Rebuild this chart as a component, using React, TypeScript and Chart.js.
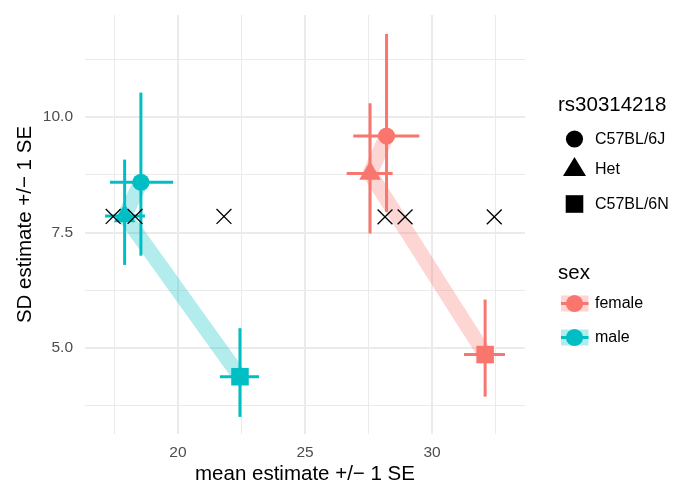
import React, { useEffect, useRef } from "react";
import { Chart, registerables } from "chart.js";
Chart.register(...registerables);

// ---------- data ----------
const genotypes = ["C57BL/6J", "Het", "C57BL/6N"];
const sexes = ["female", "male"];

const femaleMean = [28.21, 27.56, 32.09];
const femaleMeanLo = [26.9, 26.64, 31.26];
const femaleMeanHi = [29.5, 28.45, 32.87];
const femaleSD = [9.59, 8.78, 4.86];
const femaleSDLo = [7.95, 7.48, 3.95];
const femaleSDHi = [11.8, 10.3, 6.05];

const maleMean = [18.54, 17.9, 22.44];
const maleMeanLo = [17.32, 17.13, 21.65];
const maleMeanHi = [19.81, 18.7, 23.19];
const maleSD = [8.59, 7.86, 4.38];
const maleSDLo = [7.0, 6.8, 3.51];
const maleSDHi = [10.53, 9.08, 5.43];

const crossX = [17.45, 18.31, 21.81, 28.15, 28.94, 32.45];
const crossY = [7.85, 7.85, 7.85, 7.84, 7.84, 7.84];

const xTickLabels = [20, 25, 30];
const xGridValues = [17.5, 20, 22.5, 25, 27.5, 30, 32.5];
const yTickLabels = [5.0, 7.5, 10.0];
const yGridValues = [3.75, 5.0, 6.25, 7.5, 8.75, 10.0, 11.25];

const xTitle = "mean estimate +/\u2212 1 SE";
const yTitle = "SD estimate +/\u2212 1 SE";
const shapeTitle = "rs30314218";
const sexTitle = "sex";

// ---------- styles ----------
const FONT = "'Liberation Sans', Arial, Helvetica, sans-serif";
const COLORS: Record<string, string> = { female: "#F8766D", male: "#00BFC4" };
const RIBBON: Record<string, string> = {
  female: "rgba(248,118,109,0.3)",
  male: "rgba(0,191,196,0.3)",
};
const SHAPES = ["circle", "triangle", "rect"];
const RADII = [8.6, 12.5, 12.4];

const seriesFor = (sex: string) =>
  sex === "female"
    ? { m: femaleMean, mlo: femaleMeanLo, mhi: femaleMeanHi, s: femaleSD, slo: femaleSDLo, shi: femaleSDHi }
    : { m: maleMean, mlo: maleMeanLo, mhi: maleMeanHi, s: maleSD, slo: maleSDLo, shi: maleSDHi };

function drawShape(ctx: CanvasRenderingContext2D, shape: string, x: number, y: number) {
  ctx.beginPath();
  if (shape === "circle") {
    ctx.arc(x, y, 8.6, 0, Math.PI * 2);
  } else if (shape === "triangle") {
    ctx.moveTo(x, y - 12);
    ctx.lineTo(x + 11.5, y + 7);
    ctx.lineTo(x - 11.5, y + 7);
    ctx.closePath();
  } else {
    ctx.rect(x - 8.8, y - 8.8, 17.6, 17.6);
  }
  ctx.fill();
}

const legendPlugin = {
  id: "ggLegend",
  afterDraw(chart: any) {
    const ctx: CanvasRenderingContext2D = chart.ctx;
    ctx.save();
    ctx.textBaseline = "middle";
    ctx.textAlign = "left";
    ctx.fillStyle = "#000";
    ctx.font = `20.5px ${FONT}`;
    ctx.fillText(shapeTitle, 558, 105);
    const shapeY = [139, 169, 204];
    ctx.font = `16px ${FONT}`;
    genotypes.forEach((g, i) => {
      ctx.fillStyle = "#000";
      drawShape(ctx, SHAPES[i], 574.5, shapeY[i]);
      ctx.fillText(g, 595, shapeY[i] + 1);
    });
    ctx.font = `20.5px ${FONT}`;
    ctx.fillText(sexTitle, 558, 273);
    const sexY = [303.5, 337.5];
    sexes.forEach((s, i) => {
      const y = sexY[i];
      ctx.fillStyle = RIBBON[s];
      ctx.fillRect(561, y - 8, 27.5, 16);
      ctx.fillStyle = COLORS[s];
      ctx.fillRect(561, y - 1.5, 27.5, 3);
      ctx.beginPath();
      ctx.arc(574.5, y, 8.6, 0, Math.PI * 2);
      ctx.fill();
      ctx.fillStyle = "#000";
      ctx.font = `16px ${FONT}`;
      ctx.fillText(s, 595, y);
    });
    ctx.restore();
  },
};

export default function App() {
  const ref = useRef<HTMLCanvasElement | null>(null);
  useEffect(() => {
    if (!ref.current) return;
    const datasets: any[] = [];
    sexes.forEach((sex) => {
      const d = seriesFor(sex);
      // ribbon line
      datasets.push({
        type: "line",
        data: d.m.map((x, i) => ({ x, y: d.s[i] })),
        borderColor: RIBBON[sex],
        borderWidth: 15,
        borderJoinStyle: "round",
        borderCapStyle: "round",
        pointRadius: 0,
        tension: 0,
        fill: false,
        order: 4,
      });
      // error bars
      d.m.forEach((x, i) => {
        datasets.push({
          type: "line",
          data: [
            { x, y: d.slo[i] },
            { x, y: d.shi[i] },
          ],
          borderColor: COLORS[sex],
          borderWidth: 3,
          borderCapStyle: "butt",
          pointRadius: 0,
          fill: false,
          order: 3,
        });
        datasets.push({
          type: "line",
          data: [
            { x: d.mlo[i], y: d.s[i] },
            { x: d.mhi[i], y: d.s[i] },
          ],
          borderColor: COLORS[sex],
          borderWidth: 3,
          borderCapStyle: "butt",
          pointRadius: 0,
          fill: false,
          order: 3,
        });
      });
      // points
      datasets.push({
        type: "scatter",
        data: d.m.map((x, i) => ({ x, y: d.s[i] })),
        pointStyle: SHAPES,
        pointRadius: RADII,
        pointBackgroundColor: COLORS[sex],
        pointBorderWidth: 0,
        borderWidth: 0,
        order: 2,
      });
    });
    datasets.push({
      type: "scatter",
      data: crossX.map((x, i) => ({ x, y: crossY[i] })),
      pointStyle: "crossRot",
      pointRadius: 10.5,
      pointBorderColor: "#000",
      pointBorderWidth: 1.3,
      order: 1,
    });

    const chart = new Chart(ref.current, {
      type: "scatter",
      data: { datasets },
      options: {
        animation: false,
        responsive: false,
        devicePixelRatio: 1,
        layout: { padding: { top: 15, right: 150, left: 0, bottom: 0 } },
        plugins: { legend: { display: false }, tooltip: { enabled: false } },
        scales: {
          x: {
            type: "linear",
            min: 16.34,
            max: 33.66,
            afterFit: (s: any) => {
              s.height = 53;
              s.paddingLeft = 0;
              s.paddingRight = 0;
            },
            afterBuildTicks: (s: any) => {
              s.ticks = xGridValues.map((v) => ({ value: v }));
            },
            ticks: {
              autoSkip: false,
              maxRotation: 0,
              padding: 9,
              color: "#4D4D4D",
              font: { family: FONT, size: 15.5 },
              callback: (v: any) => (xTickLabels.includes(Number(v)) ? String(v) : ""),
            },
            grid: {
              drawTicks: false,
              color: "#EBEBEB",
              lineWidth: (c: any) => (c.tick && xTickLabels.includes(c.tick.value) ? 2 : 1),
            },
            border: { display: false },
            title: {
              display: true,
              text: xTitle,
              color: "#000",
              font: { family: FONT, size: 20.5 },
              padding: { top: 0, bottom: 0 },
            },
          },
          y: {
            type: "linear",
            min: 3.14,
            max: 12.21,
            afterFit: (s: any) => {
              s.width = 85;
              s.paddingTop = 0;
              s.paddingBottom = 0;
            },
            afterBuildTicks: (s: any) => {
              s.ticks = yGridValues.map((v) => ({ value: v }));
            },
            ticks: {
              autoSkip: false,
              padding: 12,
              color: "#4D4D4D",
              font: { family: FONT, size: 15.5 },
              callback: (v: any) => (yTickLabels.includes(Number(v)) ? Number(v).toFixed(1) : ""),
            },
            grid: {
              drawTicks: false,
              color: "#EBEBEB",
              lineWidth: (c: any) => (c.tick && yTickLabels.includes(c.tick.value) ? 2 : 1),
            },
            border: { display: false },
            title: {
              display: true,
              text: yTitle,
              color: "#000",
              font: { family: FONT, size: 20.5 },
              padding: { top: 13, bottom: 0 },
            },
          },
        },
      },
      plugins: [legendPlugin],
    } as any);
    return () => chart.destroy();
  }, []);

  return (
    <div style={{ position: "absolute", left: 0, top: 0, width: 675, height: 487, background: "#fff" }}>
      <canvas ref={ref} width={675} height={487} style={{ display: "block", width: 675, height: 487 }} />
    </div>
  );
}
